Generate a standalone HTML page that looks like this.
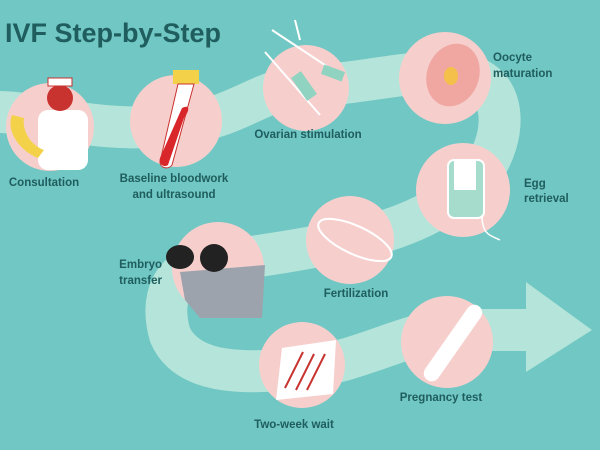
<!DOCTYPE html>
<html><head><meta charset="utf-8"><style>
html,body{margin:0;padding:0;background:#70c7c3;}
svg{display:block}
text{font-family:"Liberation Sans",sans-serif;font-weight:bold;fill:#1f5d5e;}
</style></head><body>
<svg width="600" height="450" viewBox="0 0 600 450">
<rect width="600" height="450" fill="#70c7c3"/>
<path d="M-10 112 C40 110 90 135 176 125 C240 118 260 88 306 86 C360 84 400 72 445 72 C520 72 505 150 475 180 C440 215 390 232 350 240 C300 250 250 258 210 262 C170 268 160 300 170 335 C190 380 260 372 302 368 C360 362 400 335 447 330 L530 330"
 fill="none" stroke="#b4e4da" stroke-width="42"/>
<polygon points="526,282 592,330 526,372" fill="#b4e4da"/>
<g fill="#f6cfcd">
<circle cx="50" cy="127" r="44"/>
<circle cx="176" cy="121" r="46"/>
<circle cx="306" cy="88" r="43"/>
<circle cx="445" cy="78" r="46"/>
<circle cx="463" cy="190" r="47"/>
<circle cx="350" cy="240" r="44"/>
<circle cx="218" cy="268" r="46"/>
<circle cx="302" cy="365" r="43"/>
<circle cx="447" cy="342" r="46"/>
</g>
<rect x="38" y="110" width="50" height="60" rx="10" fill="#fff"/>
<circle cx="60" cy="98" r="13" fill="#c8322f"/>
<rect x="48" y="78" width="24" height="8" fill="#fff" stroke="#c8322f"/>
<path d="M12 115 C6 130 18 150 38 158 L44 150 C30 145 22 130 24 118 Z" fill="#f3d24a"/>
<rect x="173" y="70" width="26" height="14" fill="#f3d24a"/>
<path d="M178 84 L194 84 L172 165 C168 170 160 168 160 162 Z" fill="#fff" stroke="#c8322f" stroke-width="1"/>
<path d="M182 108 C190 104 190 110 184 118 L168 165 C164 168 158 164 160 158 Z" fill="#d9262b"/>
<g stroke="#fff" stroke-width="2" fill="none">
<line x1="265" y1="52" x2="320" y2="115"/><line x1="272" y1="30" x2="340" y2="75"/>
<line x1="295" y1="20" x2="300" y2="40"/>
</g>
<rect x="298" y="72" width="12" height="28" fill="#8fd3c0" transform="rotate(-35 304 86)"/>
<rect x="322" y="68" width="22" height="10" fill="#8fd3c0" transform="rotate(20 333 73)"/>
<ellipse cx="453" cy="75" rx="26" ry="32" fill="#f0a7a2" transform="rotate(20 453 75)"/>
<ellipse cx="451" cy="76" rx="7" ry="9" fill="#f4c04a"/>
<rect x="448" y="160" width="36" height="58" rx="6" fill="#a6dccb" stroke="#fff" stroke-width="2"/>
<rect x="454" y="160" width="22" height="30" fill="#fff"/>
<path d="M482 215 C482 235 490 235 500 240" stroke="#fff" fill="none" stroke-width="1.5"/>
<ellipse cx="355" cy="240" rx="40" ry="14" fill="none" stroke="#fff" stroke-width="2" transform="rotate(25 355 240)"/>
<path d="M180 272 L265 265 L262 318 L200 318 L185 300 Z" fill="#9da3ad"/>
<ellipse cx="180" cy="257" rx="14" ry="12" fill="#222"/>
<ellipse cx="214" cy="258" rx="14" ry="14" fill="#222"/>
<polygon points="282,348 336,340 333,394 276,400" fill="#fff"/>
<g stroke="#c8322f" stroke-width="2"><line x1="285" y1="388" x2="303" y2="352"/><line x1="296" y1="390" x2="314" y2="354"/><line x1="307" y1="390" x2="325" y2="354"/></g>
<rect x="408" y="335" width="90" height="16" rx="8" fill="#fff" transform="rotate(-55 453 343)"/>
<text x="5" y="42" font-size="27">IVF Step-by-Step</text>
<g font-size="11.5" text-anchor="middle">
<text x="44" y="186">Consultation</text>
<text x="174" y="182">Baseline bloodwork</text>
<text x="174" y="198">and ultrasound</text>
<text x="308" y="138">Ovarian stimulation</text>
<text x="356" y="297">Fertilization</text>
<text x="294" y="428">Two-week wait</text>
<text x="441" y="401">Pregnancy test</text>
</g>
<g font-size="11.5">
<text x="493" y="61">Oocyte</text>
<text x="493" y="77">maturation</text>
<text x="524" y="187">Egg</text>
<text x="524" y="202">retrieval</text>
</g>
<g font-size="11.5" text-anchor="end">
<text x="162" y="268">Embryo</text>
<text x="162" y="284">transfer</text>
</g>
</svg>
</body></html>
